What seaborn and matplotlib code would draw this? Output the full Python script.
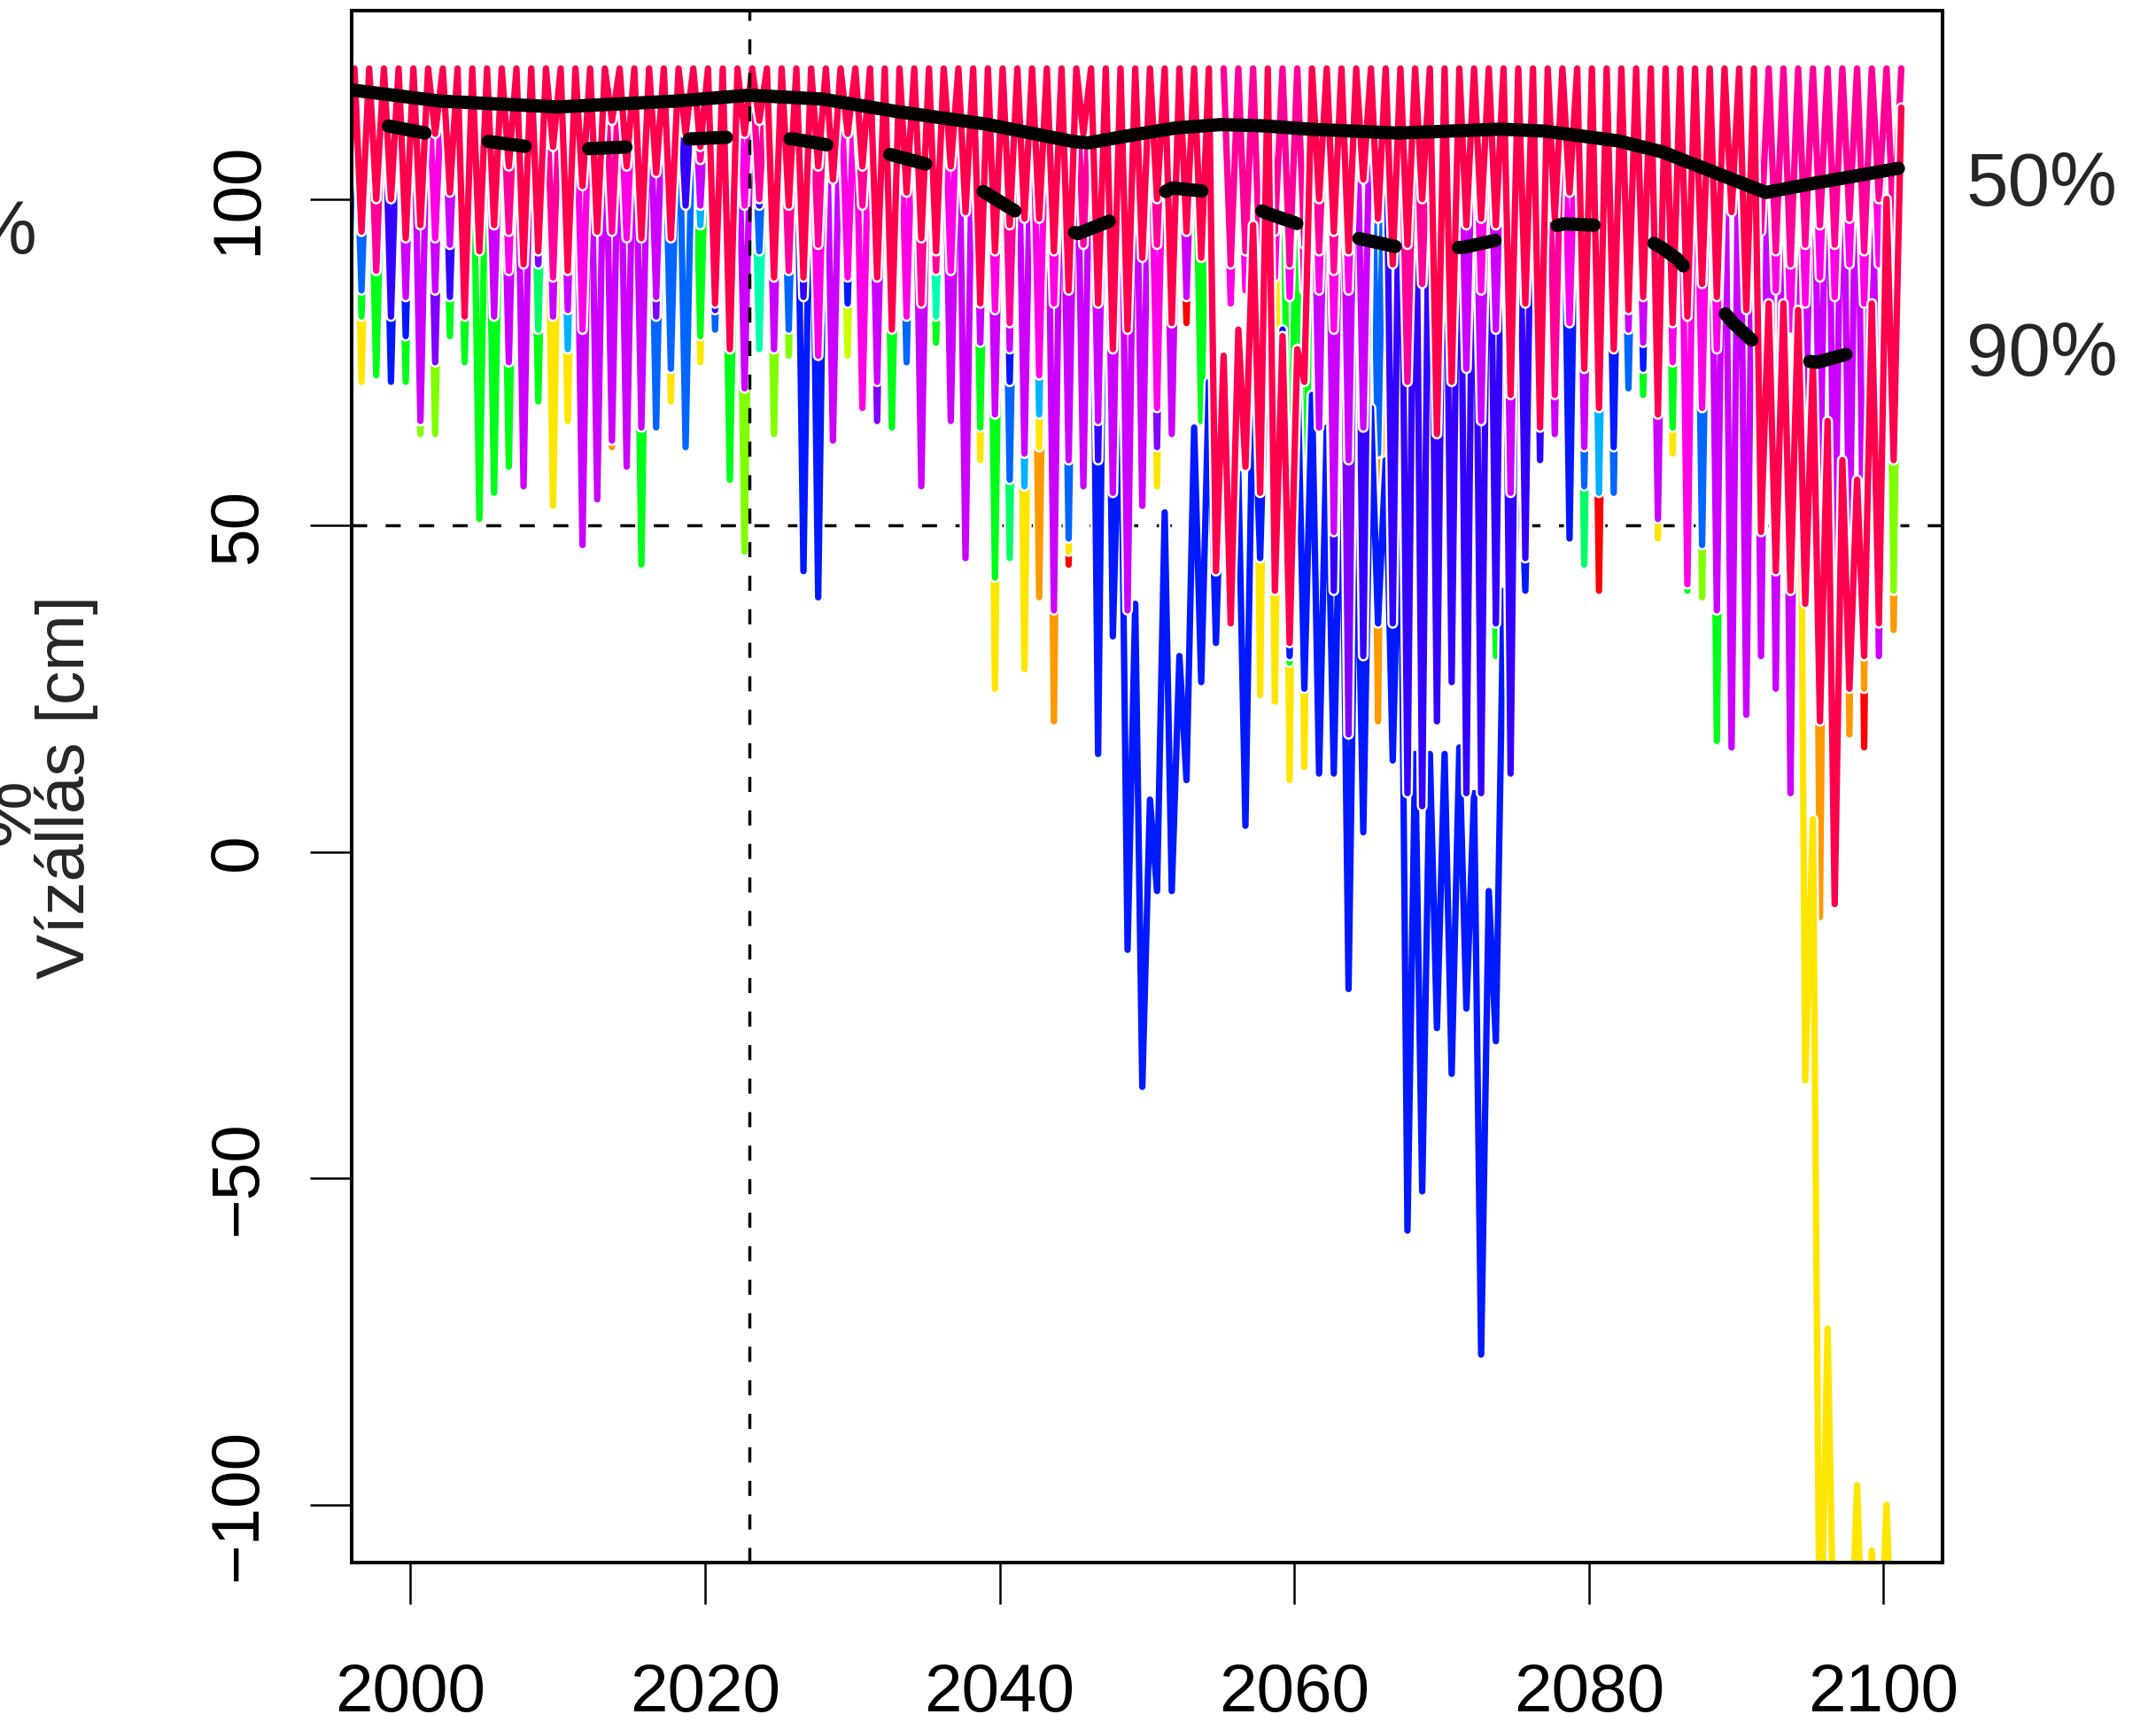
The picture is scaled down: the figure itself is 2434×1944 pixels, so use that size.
import colorsys
import numpy as np
import matplotlib
matplotlib.use("Agg")
import matplotlib.pyplot as plt
import seaborn as sns

# ---------------------------------------------------------------- data
SPILL_LEVEL = 120          # crest level every scenario returns to in spring
YEARS = list(range(1995, 2101))
PEAK_T, LOW_T = 0.20, 0.68 # position of spring maximum / autumn minimum in a year

X_TICKS = [2000, 2020, 2040, 2060, 2080, 2100]
Y_TICKS = [-100, -50, 0, 50, 100]
REF_YEAR = 2023
REF_LEVEL = 50

# autumn minima (cm) per scenario, only years where the scenario shows below the later ones
s19_low = {1995: 96, 1996: 95, 1997: 100, 1998: 100, 1999: 94, 2000: 96, 2001: 110, 2002: 101,
           2003: 82, 2004: 92, 2005: 96, 2006: 105, 2007: 90, 2008: 92, 2009: 108, 2010: 89,
           2011: 102, 2012: 95, 2013: 112, 2014: 105, 2015: 94, 2016: 104, 2017: 94, 2018: 110,
           2019: 108, 2020: 84, 2021: 77, 2022: 110, 2023: 112, 2024: 88, 2025: 99, 2026: 88,
           2027: 105, 2028: 103, 2029: 110, 2030: 105, 2031: 88, 2032: 80, 2033: 101, 2034: 94,
           2035: 92, 2036: 105, 2037: 98, 2038: 84, 2039: 92, 2040: 96, 2041: 97, 2042: 97,
           2043: 92, 2044: 86, 2045: 110, 2046: 84, 2047: 77, 2048: 80, 2049: 91, 2050: 100,
           2051: 81, 2052: 95, 2053: 91, 2054: 43, 2055: 35, 2056: 59, 2057: 55, 2058: 40,
           2059: 32, 2060: 72, 2061: 100, 2062: 95, 2063: 92, 2064: 103, 2065: 97, 2066: 90,
           2067: 93, 2068: 100, 2069: 64, 2070: 72, 2071: 96, 2072: 97, 2073: 96, 2074: 70,
           2075: 84, 2076: 65, 2077: 97, 2078: 101, 2079: 74, 2080: 68, 2081: 77, 2082: 83,
           2083: 85, 2084: 67, 2085: 81, 2086: 82, 2087: 87, 2088: 85, 2089: 98, 2090: 83,
           2091: 49, 2092: 43, 2093: 40, 2094: 38, 2095: 20, 2096: -8, 2097: 25, 2098: 30,
           2099: 35, 2100: 60}
s19_high = {2055: 76, 2056: 80, 2057: 96, 2059: 79, 2060: 77, 2092: 84, 2093: 84, 2094: 83,
            2095: 75, 2096: 66, 2097: 60, 2098: 57, 2099: 84, 2100: 100, 2101: 114}

s18_low = {1997: 89, 2006: 95, 2009: 88, 2013: 95, 2019: 106, 2023: 100, 2025: 89, 2027: 93,
           2030: 99, 2034: 84, 2035: 89, 2040: 81, 2045: 93, 2050: 93, 2055: 90, 2056: 92,
           2057: 88, 2058: 95, 2059: 90, 2060: 93, 2061: 92, 2062: 89, 2067: 72, 2068: 87,
           2073: 96, 2077: 70, 2091: 95, 2092: 92, 2093: 90, 2094: 93, 2095: 96, 2096: 93,
           2097: 97, 2098: 92, 2099: 100, 2100: 95}
s17_low = {2001: 94, 2006: 89, 2011: 80, 2014: 94, 2022: 99, 2027: 76, 2029: 88, 2030: 68,
           2033: 82, 2036: 89, 2039: 83, 2042: 73, 2043: 84, 2050: 68, 2055: 84, 2056: 86,
           2057: 80, 2058: 88, 2059: 85, 2060: 86, 2061: 86, 2062: 80, 2063: 86, 2072: 86,
           2078: 81, 2085: 75, 2086: 41, 2087: 68, 2088: 77, 2092: 86, 2093: 80, 2094: 84,
           2095: 88, 2096: 85, 2097: 90, 2098: 84, 2099: 90, 2100: 88}
s16_low = {1999: 85, 2000: 66, 2001: 86, 2002: 93, 2005: 82, 2006: 75, 2007: 56, 2009: 82,
           2010: 83, 2011: 47, 2012: 54, 2013: 63, 2014: 59, 2015: 65, 2016: 85, 2019: 99,
           2022: 71, 2024: 77, 2028: 63, 2031: 72, 2034: 56, 2036: 66, 2037: 45, 2038: 78,
           2039: 67, 2040: 77, 2041: 61, 2043: 37, 2044: 60, 2045: 56, 2046: 66, 2047: 55,
           2048: 37, 2049: 53, 2051: 64, 2052: 85, 2061: 65, 2062: 49, 2063: 60, 2064: 65,
           2071: 74, 2072: 66, 2073: 80, 2074: 55, 2077: 64, 2079: 62, 2082: 80, 2083: 78,
           2084: 51, 2088: 37, 2089: 16, 2090: 21, 2091: 30, 2092: 25, 2093: 9, 2094: 60,
           2095: 55, 2096: 40, 2097: 45, 2098: 30, 2099: 30, 2100: 62}
s15_low = {2001: 75, 2008: 90, 2016: 82, 2031: 66, 2050: 62, 2062: 60, 2063: 18, 2092: 70,
           2097: 60}
s14_low = {1998: 82, 2002: 85, 2018: 99, 2020: 83, 2023: 99, 2026: 85, 2046: 60, 2062: 40,
           2064: 30, 2066: 35, 2067: 9, 2068: 7, 2069: 20, 2070: 26, 2071: 9, 2072: 9,
           2073: 35, 2074: 12, 2075: 45, 2076: 60}
s13_low = {1998: 72, 1999: 79, 2026: 43, 2027: 39, 2029: 84, 2040: 72, 2046: 15, 2047: 33,
           2048: -15, 2049: -36, 2050: -6, 2051: -6, 2052: 11, 2053: 26, 2054: 32, 2055: 40,
           2056: 4, 2057: 45, 2058: 40, 2059: 30, 2060: 25, 2061: 12, 2062: 12, 2063: -21,
           2064: 3, 2065: 35, 2066: 14, 2067: -58, 2068: -52, 2069: -27, 2070: -34,
           2071: -24, 2072: -77, 2073: -29, 2074: 13, 2075: 40, 2076: 60, 2078: 48,
           2081: 62, 2083: 74}
s13_high = {2048: 76, 2049: 38, 2050: 8, 2051: 52, 2052: 30, 2053: 65, 2054: 72, 2055: 70,
            2056: 58, 2057: 74, 2058: 85, 2059: 80, 2060: 75, 2061: 70, 2062: 65, 2063: 67,
            2064: 60, 2065: 68, 2066: 60, 2067: 61, 2068: 15, 2069: 15, 2070: 15, 2071: 16,
            2072: 9, 2073: -6, 2074: 40, 2075: 70, 2076: 90}
s12_low = {1995: 71, 1996: 86, 2016: 65, 2017: 74, 2018: 62, 2020: 80, 2023: 92, 2025: 80,
           2033: 75, 2040: 57, 2044: 48, 2065: 61, 2068: 52, 2069: 55, 2079: 56, 2081: 55,
           2082: 71, 2087: 47}
s11_low = {2010: 77, 2019: 96, 2041: 56, 2042: 67, 2065: 91, 2068: 83, 2080: 55}
s10_low = {}
s09_low = {2023: 77, 2035: 82}
s08_low = {2008: 80, 2040: 45, 2076: 64, 2079: 44}
s07_low = {1996: 82, 1997: 73, 1999: 72, 2002: 79, 2003: 75, 2004: 51, 2005: 55, 2006: 59,
           2008: 69, 2015: 44, 2019: 79, 2021: 57, 2032: 65, 2035: 78, 2038: 65, 2039: 42,
           2053: 66, 2059: 29, 2060: 29, 2070: 66, 2073: 30, 2075: 41, 2083: 70, 2085: 65,
           2086: 40, 2088: 17}
s06_low = {2071: 60, 2074: 35}
s05_low = {2000: 64, 2001: 64, 2022: 46, 2024: 64, 2025: 76, 2068: 59, 2087: 39, 2100: 40}
s04_low = {2029: 76}
s03_low = {1996: 72, 2009: 53, 2010: 66, 2017: 69, 2019: 75, 2038: 60, 2039: 25, 2041: 28,
           2042: 62, 2044: 46, 2050: 56, 2057: 24, 2058: 23, 2059: 11, 2060: 13, 2084: 48,
           2085: 61, 2094: -35, 2095: -130, 2096: -130, 2097: -130, 2098: -130, 2099: -130,
           2100: -130}
s03_high = {2095: 5, 2096: -73, 2097: -120, 2098: -97, 2099: -107, 2100: -100, 2101: -130}
s02_low = {2010: 66, 2013: 62, 2042: 39, 2043: 20, 2065: 20, 2095: -10, 2096: 30, 2097: 18,
           2098: 25, 2100: 34}
s01_low = {}
s00_low = {2044: 44, 2052: 81, 2080: 40, 2098: 16}

SCENARIO_LOWS = [s00_low, s01_low, s02_low, s03_low, s04_low, s05_low, s06_low, s07_low,
                 s08_low, s09_low, s10_low, s11_low, s12_low, s13_low, s14_low, s15_low,
                 s16_low, s17_low, s18_low, s19_low]
SCENARIO_HIGHS = {3: s03_high, 13: s13_high, 19: s19_high}

# ensemble percentiles
P50_YEARS = [1995, 2002, 2010, 2018, 2023, 2028, 2033, 2039, 2045, 2046, 2049, 2052, 2055,
             2058, 2061, 2067, 2074, 2077, 2082, 2085, 2092, 2095, 2101]
P50_LEVELS = [117, 115, 114.1, 115, 115.9, 115.3, 113.4, 111.5, 108.8, 108.6, 109.8, 110.9,
              111.4, 111.2, 110.7, 110.1, 110.7, 110.4, 108.9, 107.2, 101, 102.3, 104.7]
P90_YEARS = [1995, 1998, 2001, 2005, 2008, 2012, 2015, 2019, 2022, 2026, 2029, 2032.6,
             2035.6, 2039, 2041.6, 2045.3, 2048, 2051.7, 2054.7, 2058.3, 2061, 2064.7,
             2067.7, 2071.5, 2074.5, 2078.3, 2081.3, 2083, 2084.9, 2086, 2087.1, 2089.8,
             2091.8, 2093.5, 2095.5, 2098.4, 2101]
P90_LEVELS = [112.3, 111.4, 110.1, 108.9, 108, 107.7, 108, 109.2, 109.5, 109.2, 108, 106.8,
              105, 101, 97.4, 94.7, 97.1, 101.7, 101, 97.7, 95.6, 93.8, 92.3, 92.6, 94.1,
              96.2, 95.9, 95, 92.6, 90.8, 88, 81, 76.8, 75.5, 75, 76.8, 78]

# ---------------------------------------------------------------- style
sns.set_theme(style="ticks")
FONT = ["Liberation Sans", "DejaVu Sans"]
plt.rcParams["font.family"] = FONT

fig = plt.figure(figsize=(12.17, 9.72), dpi=200)
ax = fig.add_axes([0.16303, 0.09280, 0.73796, 0.90082])

n_scen = len(SCENARIO_LOWS)
colors = [colorsys.hsv_to_rgb(i / n_scen, 1.0, 1.0) for i in range(n_scen)]


def scenario_path(low, high):
    xs, ys = [], []
    for yr in YEARS:
        xs += [yr + PEAK_T, yr + LOW_T]
        lo = low.get(yr)
        ys += [high.get(yr, SPILL_LEVEL), np.nan if lo is None else lo]
    last = YEARS[-1] + 1
    xs.append(last + PEAK_T)
    ys.append(high.get(last, SPILL_LEVEL))
    return np.array(xs), np.array(ys, dtype=float)


ax.axhline(REF_LEVEL, color="black", lw=1.25, linestyle=(0, (4.9, 6.0)), zorder=1)

for i, low in enumerate(SCENARIO_LOWS):
    xs, ys = scenario_path(low, SCENARIO_HIGHS.get(i, {}))
    z = 2 + i * 0.01
    ax.plot(xs, ys, color="white", lw=4.4, solid_capstyle="round",
            solid_joinstyle="round", zorder=z)
    ax.plot(xs, ys, color=colors[i], lw=2.6, solid_capstyle="round",
            solid_joinstyle="round", zorder=z + 0.005)

ax.axvline(REF_YEAR, color="black", lw=1.25, linestyle=(0, (4.9, 6.0)), zorder=3)

sns.lineplot(x=P50_YEARS, y=P50_LEVELS, ax=ax, color="black", lw=5.4,
             solid_capstyle="round", zorder=4)
sns.lineplot(x=P90_YEARS, y=P90_LEVELS, ax=ax, color="black", lw=5.4,
             linestyle=(3.67, (2.8, 4.8)), dash_capstyle="round", zorder=4)

ax.set_xlim(1996, 2104)
ax.set_ylim(-108.8, 128.8)
ax.set_xticks(X_TICKS)
ax.set_yticks(Y_TICKS)
ax.set_xticklabels([str(t) for t in X_TICKS])
ax.set_yticklabels(["\u2212100" if t == -100 else ("\u221250" if t == -50 else str(t))
                    for t in Y_TICKS])
ax.set_xlabel("")
ax.set_ylabel("")
ax.tick_params(axis="both", direction="out", length=17, width=0.9, color="black",
               labelsize=27.5, labelcolor="black")
ax.tick_params(axis="x", pad=24)
ax.tick_params(axis="y", pad=16)
for lab in ax.get_yticklabels():
    lab.set_rotation(90)
    lab.set_va("center")
    lab.set_ha("right")
for sp in ax.spines.values():
    sp.set_visible(True)
    sp.set_color("black")
    sp.set_linewidth(1.45)
    sp.set_zorder(6)

ax.text(2105.6, 99.0, "50%", ha="left", va="baseline", fontsize=30.7, clip_on=False)
ax.text(2105.6, 73.0, "90%", ha="left", va="baseline", fontsize=30.7, clip_on=False)

fig.text(0.0308, 0.5432, "Vízállás [cm]", rotation=90, ha="center", va="center",
         fontsize=27.5)
fig.text(42 / 2434, 1 - 287 / 1944, "%", ha="right", va="baseline", fontsize=30.7)
fig.text(51 / 2434, 1 - 916 / 1944, "%", rotation=90, ha="right", va="center",
         fontsize=30.7)

fig.savefig("out.png", dpi=200, facecolor="white")
